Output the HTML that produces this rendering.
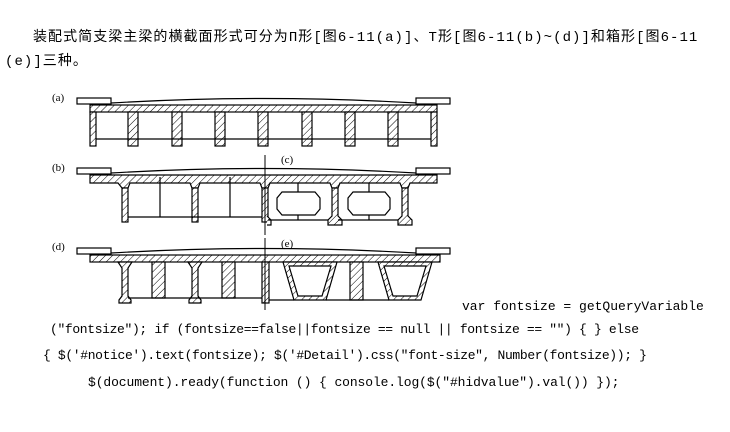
<!DOCTYPE html>
<html><head><meta charset="utf-8">
<style>
html,body{margin:0;padding:0;background:#fff;width:730px;height:432px;overflow:hidden;position:relative}
.t{position:absolute;white-space:nowrap;font-family:"Liberation Mono","Noto Sans CJK SC",monospace;font-size:14px;color:#000;letter-spacing:1.05px}
.c{position:absolute;white-space:nowrap;font-family:"Liberation Mono",monospace;font-size:13px;color:#000}
svg{position:absolute;left:0;top:0}
</style></head><body>
<div class="t" style="left:33px;top:26px">装配式简支梁主梁的横截面形式可分为Π形[图6-11(a)]、T形[图6-11(b)~(d)]和箱形[图6-11</div>
<div class="t" style="left:5px;top:50px">(e)]三种。</div>

<svg width="730" height="432" viewBox="0 0 730 432">
<defs>
<pattern id="h" width="5" height="5" patternUnits="userSpaceOnUse" patternTransform="rotate(45)">
<rect width="5" height="5" fill="#fff"/><line x1="0" y1="0" x2="0" y2="5" stroke="#000" stroke-width="1"/>
</pattern>
</defs>
<g font-family="Liberation Serif,serif" font-size="11" fill="#000">
<text x="52" y="101">(a)</text>
<text x="52" y="171">(b)</text>
<text x="281" y="163">(c)</text>
<text x="52" y="250">(d)</text>
<text x="281" y="247">(e)</text>
</g>
<g stroke="#000" stroke-width="1.2" fill="none">
<rect x="77" y="98" width="34" height="6" fill="#fff"/>
<rect x="416" y="98" width="34" height="6" fill="#fff"/>
<path d="M111 103 Q263 94 416 103"/>
<rect x="90" y="105" width="347" height="7" fill="url(#h)"/>
<g fill="url(#h)">
<rect x="90" y="112" width="6" height="34"/>
<rect x="128" y="112" width="10" height="34"/>
<rect x="172" y="112" width="10" height="34"/>
<rect x="215" y="112" width="10" height="34"/>
<rect x="258" y="112" width="10" height="34"/>
<rect x="302" y="112" width="10" height="34"/>
<rect x="345" y="112" width="10" height="34"/>
<rect x="388" y="112" width="10" height="34"/>
<rect x="431" y="112" width="6" height="34"/>
</g>
<line x1="96" y1="139" x2="431" y2="139"/>
<rect x="77" y="168" width="34" height="6" fill="#fff"/>
<rect x="416" y="168" width="34" height="6" fill="#fff"/>
<path d="M111 173 Q263 164 416 173"/>
<path d="M90 175 L437 175 L437 183 L410 183 L408 188 L402 188 L400 183 L340 183 L338 188 L332 188 L330 183 L270 183 L268 188 L262 188 L260 183 L200 183 L198 188 L192 188 L190 183 L130 183 L128 188 L122 188 L118 183 L90 183 Z" fill="url(#h)"/>
<g fill="url(#h)">
<rect x="122" y="188" width="6" height="34"/>
<rect x="192" y="188" width="6" height="34"/>
<rect x="262" y="188" width="6" height="34"/>
<path d="M332 188 L338 188 L338 216 L342 220 L342 225 L328 225 L328 220 L332 216 Z"/>
<path d="M402 188 L408 188 L408 216 L412 220 L412 225 L398 225 L398 220 L402 216 Z"/>
<path d="M267 216 L271 220 L271 225 L267 225"/>
</g>
<line x1="128" y1="217" x2="262" y2="217"/>
<line x1="160" y1="177" x2="160" y2="217"/>
<line x1="230" y1="177" x2="230" y2="217"/>
<line x1="268" y1="220" x2="328" y2="220"/>
<line x1="338" y1="220" x2="398" y2="220"/>
<path d="M282 192 L315 192 L320 198 L320 209 L315 215 L282 215 L277 209 L277 198 Z"/>
<path d="M353 192 L385 192 L390 198 L390 209 L385 215 L353 215 L348 209 L348 198 Z"/>
<line x1="298" y1="183" x2="298" y2="192"/><line x1="298" y1="215" x2="298" y2="220"/>
<line x1="369" y1="183" x2="369" y2="192"/><line x1="369" y1="215" x2="369" y2="220"/>
<rect x="77" y="248" width="34" height="6" fill="#fff"/>
<rect x="416" y="248" width="34" height="6" fill="#fff"/>
<path d="M111 253 Q263 244 416 253"/>
<rect x="90" y="255" width="350" height="7" fill="url(#h)"/>
<g fill="url(#h)">
<path d="M118 262 L122 268 L122 296 L119 300 L119 303 L131 303 L131 300 L128 296 L128 268 L132 262 Z"/>
<path d="M188 262 L192 268 L192 296 L189 300 L189 303 L201 303 L201 300 L198 296 L198 268 L202 262 Z"/>
<rect x="262" y="262" width="7" height="41"/>
<rect x="152" y="262" width="13" height="36"/>
<rect x="222" y="262" width="13" height="36"/>
<rect x="350" y="262" width="13" height="38"/>
<path d="M283 262 L337 262 L326 300 L294 300 Z M289 266 L298 296 L322 296 L331 266 Z" fill-rule="evenodd"/>
<path d="M378 262 L432 262 L421 300 L389 300 Z M384 266 L393 296 L417 296 L426 266 Z" fill-rule="evenodd"/>
</g>
<line x1="128" y1="298" x2="262" y2="298"/>
<line x1="269" y1="300" x2="294" y2="300"/>
<line x1="326" y1="300" x2="389" y2="300"/>
</g>
<line x1="265" y1="155" x2="265" y2="235" stroke="#000" stroke-width="1"/>
<line x1="265" y1="238" x2="265" y2="310" stroke="#000" stroke-width="1"/>
</svg>

<div class="c" style="left:462px;top:299px">var fontsize = getQueryVariable</div>
<div class="c" style="left:50px;top:322px;letter-spacing:-0.35px">("fontsize"); if (fontsize==false||fontsize == null || fontsize == "") { } else</div>
<div class="c" style="left:43px;top:348px;letter-spacing:-0.35px">{ $('#notice').text(fontsize); $('#Detail').css("font-size", Number(fontsize)); }</div>
<div class="c" style="left:88px;top:375px;letter-spacing:-0.1px">$(document).ready(function () { console.log($("#hidvalue").val()) });</div>
</body></html>
